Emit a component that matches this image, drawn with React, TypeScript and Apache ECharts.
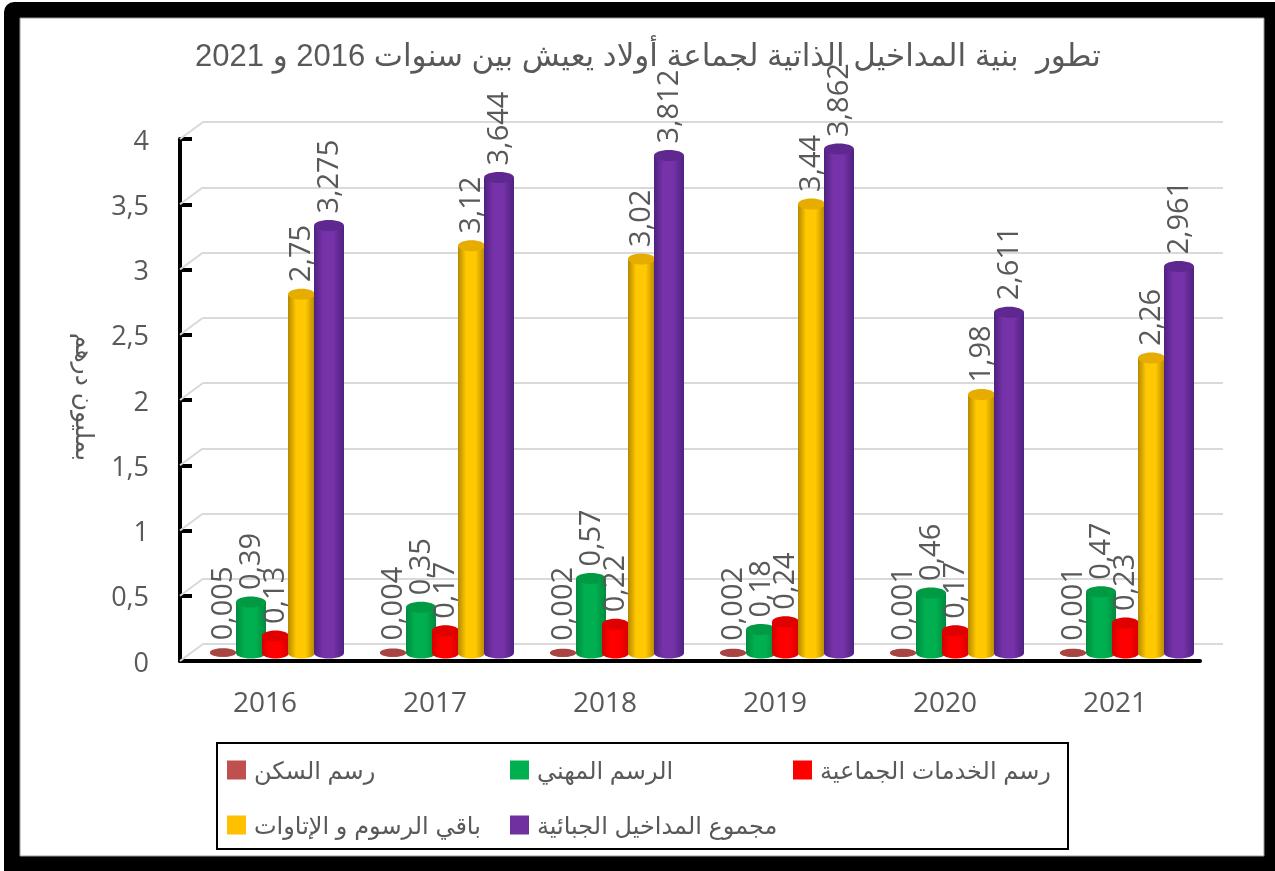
import React, { useEffect, useRef } from "react";
import * as echarts from "echarts";

const titleText = "تطور  بنية المداخيل الذاتية لجماعة أولاد يعيش بين سنوات 2016 و 2021";
const yAxisTitle = "بمليون درهم";
const years = ["2016", "2017", "2018", "2019", "2020", "2021"];
const yTicks = [0, 0.5, 1, 1.5, 2, 2.5, 3, 3.5, 4];

const housingTax = [0.005, 0.004, 0.002, 0.002, 0.001, 0.001];
const professionalTax = [0.39, 0.35, 0.57, 0.18, 0.46, 0.47];
const servicesTax = [0.13, 0.17, 0.22, 0.24, 0.17, 0.23];
const otherFees = [2.75, 3.12, 3.02, 3.44, 1.98, 2.26];
const totalTax = [3.275, 3.644, 3.812, 3.862, 2.611, 2.961];

const seriesNames = [
  "رسم السكن",
  "الرسم المهني",
  "رسم الخدمات الجماعية",
  "باقي الرسوم و الإتاوات",
  "مجموع المداخيل الجبائية",
];
const seriesValues = [housingTax, professionalTax, servicesTax, otherFees, totalTax];

const styles = [
  { dx: -42, w: 26, c: "#C0504D", edge: "#A94543", top: "#A84442", hi: "#C0504D" },
  { dx: -14, w: 30, c: "#00B050", edge: "#008A3E", top: "#009A45", hi: "#00B050" },
  { dx: 10.5, w: 27, c: "#FF0000", edge: "#D40000", top: "#E00000", hi: "#FF0000" },
  { dx: 36.5, w: 27, c: "#FFC000", edge: "#B58800", top: "#E6AC00", hi: "#FFC800" },
  { dx: 64, w: 30, c: "#7030A0", edge: "#4E2180", top: "#5F2890", hi: "#7632A8" },
];

const TEXT = "#595959";
const FONT = "'Open Sans', sans-serif";
const ARABIC = "'Liberation Sans', 'DejaVu Sans', sans-serif";
const comma = (v: number) => String(v).replace(".", ",");

const legendPos = [
  { left: 227, top: 758 },
  { left: 510, top: 758 },
  { left: 793, top: 758 },
  { left: 227, top: 813 },
  { left: 510, top: 813 },
];

export default function App() {
  const ref = useRef<HTMLDivElement>(null);
  useEffect(() => {
    document.body.style.margin = "0";
    const chart = echarts.init(ref.current!, undefined, { renderer: "svg" });

    const barSeries = seriesNames.map((name, si) => {
      const s = styles[si];
      return {
        type: "custom",
        name,
        coordinateSystem: "cartesian2d",
        xAxisIndex: 0,
        yAxisIndex: 0,
        z: 5,
        clip: false,
        itemStyle: { color: s.c },
        encode: { x: 0, y: 1 },
        data: seriesValues[si].map((v, i) => [i, v]),
        renderItem: (_: any, api: any) => {
          const cat = api.value(0);
          const val = api.value(1);
          const top = api.coord([cat, val]);
          const base = api.coord([cat, 0]);
          const cx = base[0] + s.dx;
          const baseY = base[1] - 8;
          const topY = top[1] - 8;
          const rx = s.w / 2;
          const ry = si === 0 ? 4 : 5.5;
          const fill = {
            type: "linear",
            x: 0,
            y: 0,
            x2: 1,
            y2: 0,
            colorStops: [
              { offset: 0, color: s.edge },
              { offset: 0.3, color: s.hi },
              { offset: 0.65, color: s.hi },
              { offset: 1, color: s.edge },
            ],
          };
          return {
            type: "group",
            children: [
              { type: "ellipse", shape: { cx, cy: baseY, rx, ry }, style: { fill } },
              { type: "rect", shape: { x: cx - rx, y: topY, width: s.w, height: baseY - topY }, style: { fill } },
              { type: "ellipse", shape: { cx, cy: topY, rx, ry }, style: { fill: s.top } },
              {
                type: "text",
                x: cx - 3,
                y: topY - 12,
                rotation: Math.PI / 2,
                style: {
                  text: comma(val),
                  fill: TEXT,
                  font: `29px ${FONT}`,
                  align: "left",
                  verticalAlign: "middle",
                },
              },
            ],
          };
        },
      };
    });

    const stubSeries = {
      type: "custom",
      name: "stubs",
      coordinateSystem: "cartesian2d",
      xAxisIndex: 0,
      yAxisIndex: 0,
      z: 1,
      silent: true,
      clip: false,
      encode: { y: 0 },
      data: yTicks.map((v) => [v]),
      renderItem: (params: any, api: any) => {
        const p = api.coord([0, api.value(0)]);
        const x = params.coordSys.x;
        return {
          type: "line",
          shape: { x1: x, y1: p[1], x2: x + 23, y2: p[1] - 17 },
          style: { stroke: "#D9D9D9", lineWidth: 2 },
        };
      },
    };

    chart.setOption({
      animation: false,
      backgroundColor: "transparent",
      title: {
        text: titleText,
        left: 643,
        top: 35,
        textAlign: "center",
        textStyle: { fontFamily: ARABIC, fontSize: 31, fontWeight: "normal", color: TEXT },
      },
      legend: legendPos.map((p, i) => ({
        ...p,
        data: [seriesNames[i]],
        icon: "rect",
        itemWidth: 19,
        itemHeight: 19,
        itemGap: 0,
        padding: 0,
        selectedMode: false,
        textStyle: { fontFamily: ARABIC, fontSize: 24, color: TEXT, padding: [0, 0, 0, 3] },
      })),
      grid: [
        { left: 180, top: 139, width: 1020, height: 522 },
        { left: 203, top: 122, width: 1020, height: 522 },
      ],
      xAxis: [
        {
          type: "category",
          gridIndex: 0,
          data: years,
          axisLine: { lineStyle: { color: "#000", width: 4 } },
          axisTick: { inside: true, length: 12, lineStyle: { color: "#000", width: 4 } },
          axisLabel: { fontFamily: FONT, fontSize: 28, color: TEXT, margin: 26 },
        },
        { type: "category", gridIndex: 1, data: years, show: false },
      ],
      yAxis: [
        {
          type: "value",
          gridIndex: 0,
          min: 0,
          max: 4,
          interval: 0.5,
          axisLine: { show: true, lineStyle: { color: "#000", width: 4 } },
          axisTick: { show: true, inside: true, length: 12, lineStyle: { color: "#000", width: 4 } },
          axisLabel: { fontFamily: FONT, fontSize: 27, color: TEXT, margin: 31, padding: [2, 0, 0, 0], formatter: (v: number) => comma(v) },
          splitLine: { show: false },
        },
        {
          type: "value",
          gridIndex: 1,
          min: 0,
          max: 4,
          interval: 0.5,
          axisLine: { show: false },
          axisTick: { show: false },
          axisLabel: { show: false },
          splitLine: { show: true, lineStyle: { color: "#D9D9D9", width: 2 } },
        },
      ],
      graphic: [
        {
          type: "rect",
          z: -20,
          silent: true,
          shape: { x: 4, y: 2, width: 1271, height: 869, r: [10, 0, 0, 0] },
          style: { fill: "#000" },
        },
        {
          type: "rect",
          z: -19,
          silent: true,
          shape: { x: 20, y: 18, width: 1244, height: 838 },
          style: { fill: "#fff", stroke: "#999", lineWidth: 1 },
        },
        {
          type: "rect",
          z: -18,
          silent: true,
          shape: { x: 217, y: 743, width: 851, height: 106 },
          style: { fill: "#fff", stroke: "#000", lineWidth: 2 },
        },
        {
          type: "text",
          x: 85,
          y: 397,
          rotation: -Math.PI / 2,
          z: 10,
          style: {
            text: yAxisTitle,
            fill: TEXT,
            font: `25px ${ARABIC}`,
            align: "center",
            verticalAlign: "middle",
          },
        },
      ],
      series: [stubSeries, ...barSeries],
    });
    return () => chart.dispose();
  }, []);
  return <div ref={ref} style={{ position: "fixed", left: 0, top: 0, width: 1275, height: 871 }} />;
}
